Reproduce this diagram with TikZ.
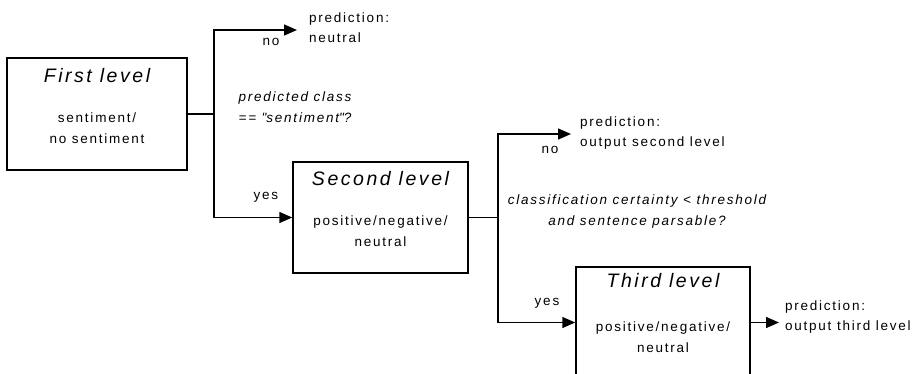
\documentclass[tikz,border=0pt]{standalone}
\usepackage{fontspec}
\setmainfont[LetterSpace=13]{Liberation Sans}
\usetikzlibrary{arrows.meta}
\begin{document}
\begin{tikzpicture}[x=1pt,y=-1pt,
  box/.style={draw=black,line width=1.5pt,minimum width=#1,inner sep=0pt},
  boxtitle/.style={font=\fontsize{19.5}{22}\selectfont\itshape,inner sep=0pt},
  body/.style={font=\fontsize{13.5}{21}\selectfont,align=center,inner sep=0pt},
  cond/.style={font=\fontsize{13.5}{21}\selectfont\itshape,align=center,inner sep=0pt},
  lab/.style={font=\fontsize{13.5}{21}\selectfont,inner sep=0pt},
  pred/.style={font=\fontsize{13.5}{20}\selectfont,align=left,anchor=west,inner sep=0pt},
  conn/.style={line width=1.5pt},
  arr/.style={line width=1.5pt,-{Triangle[length=13pt,width=11pt]}}]
\useasboundingbox (0,0) rectangle (918,374);
\clip (0,0) rectangle (918,374);
% boxes
\node[box=180pt,minimum height=112pt] (b1) at (97,114) {};
\node[box=175pt,minimum height=111pt] (b2) at (380.5,217.5) {};
\node[box=174pt,minimum height=111pt] (b3) at (663,322.5) {};
% box texts
\node[boxtitle] (t1) at (97,76) {First level};
\node[body] (s1) at (97,128) {sentiment/\\no sentiment};
\node[boxtitle] (t2) at (380.5,179) {Second level};
\node[body] (s2) at (380.5,231) {positive/negative/\\neutral};
\node[boxtitle] (t3) at (663,281) {Third level};
\node[body] (s3) at (663,337) {positive/negative/\\neutral};
% junctions and tips
\coordinate (j1) at (214,114);
\coordinate (j1top) at (214,30);
\coordinate (j1bot) at (214,217.5);
\coordinate (p1) at (297,30);
\coordinate (j2) at (498,217.5);
\coordinate (j2top) at (498,134);
\coordinate (j2bot) at (498,322.5);
\coordinate (p2) at (571,134);
\coordinate (p3) at (779,322.5);
% connectors
\draw[conn] (b1.east) -- (j1);
\draw[arr] (j1) -- (j1top) -- (p1);
\draw[arr] (j1) -- (j1bot) -- (b2.west);
\draw[conn] (b2.east) -- (j2);
\draw[arr] (j2) -- (j2top) -- (p2);
\draw[arr] (j2) -- (j2bot) -- (b3.west);
\draw[arr] (b3.east) -- (p3);
% labels
\node[lab] (no1) at (271,42) {no};
\node[lab] (yes1) at (266,197) {yes};
\node[cond] (c1) at (295,107) {predicted class\\== \textquotedbl sentiment\textquotedbl ?};
\node[pred] (o1) at (309,27.5) {prediction:\\neutral};
\node[lab] (no2) at (550,150) {no};
\node[lab] (yes2) at (547,303) {yes};
\node[cond] (c2) at (637,211.5) {classification certainty < threshold\\and sentence parsable?};
\node[pred] (o2) at (580,133) {prediction:\\output second level};
\node[pred] (o3) at (785,317) {prediction:\\output third level};
\end{tikzpicture}
\end{document}
